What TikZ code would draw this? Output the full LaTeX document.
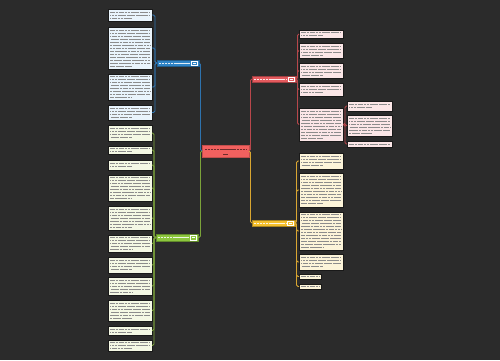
\documentclass[tikz,border=0pt]{standalone}
\begin{document}
\definecolor{bgc}{HTML}{2B2B2B}
\definecolor{bluen}{HTML}{2F84C6}
\definecolor{bluel}{HTML}{E9F4FC}
\definecolor{bluec}{HTML}{2E73AE}
\definecolor{greenn}{HTML}{8CC63E}
\definecolor{greenl}{HTML}{F4F8E4}
\definecolor{greenc}{HTML}{7BA33A}
\definecolor{redn}{HTML}{E45A5E}
\definecolor{redl}{HTML}{FBE6E7}
\definecolor{redc}{HTML}{B8474B}
\definecolor{centern}{HTML}{F2615F}
\definecolor{yellown}{HTML}{F5C02D}
\definecolor{yellowl}{HTML}{FCF4D9}
\definecolor{yellowc}{HTML}{D9A631}
\tikzset{
  leafn/.style={draw=black!90, line width=0.5pt, inner sep=0pt, outer sep=0pt, anchor=north west},
  brn/.style={line width=0.6pt, inner sep=0pt, outer sep=0pt, anchor=north west},
  txt/.style={line width=0.9pt, black!45, dash pattern=on 2.6pt off 0.4pt on 2.2pt off 0.6pt on 3pt off 0.4pt},
  conn/.style={line width=0.9pt, rounded corners=1.5pt},
}
\newcommand\lf[6]{%
  \node[leafn, fill=#6, minimum width={(#4-#2)*1pt}, minimum height={(#5-#3)*1pt}] (#1) at (#2,#3) {};
  \pgfmathtruncatemacro\nlines{max(1,floor((#5-#3-2)/3))}%
  \pgfmathsetmacro\ystart{#3+((#5-#3)-(\nlines-1)*3)/2}%
  \foreach \i in {1,...,\nlines}{%
    \pgfmathsetmacro\yy{\ystart+(\i-1)*3}%
    \pgfmathsetmacro\xe{ifthenelse(and(\i==\nlines,\nlines>1), #2+0.55*(#4-#2), #4-2)}%
    \pgfmathsetmacro\ph{mod(\i*3.7,9.6)}%
    \draw[txt, dash phase=\ph pt] (#2+2,\yy) -- (\xe,\yy);
  }%
}
\newcommand\brnode[7]{% name x1 y1 x2 y2 fill border
  \node[brn, fill=#6, draw=#7, minimum width={(#4-#2)*1pt}, minimum height={(#5-#3)*1pt}] (#1) at (#2,#3) {};
  \draw[line width=0.8pt, white!85!#6, dash pattern=on 2.4pt off 0.5pt] (#2+2,{(#3+#5)/2}) -- (#4-9,{(#3+#5)/2});
  \draw[line width=0.4pt, white] (#4-7.5,#3+1.2) rectangle (#4-2,#5-1.2);
  \draw[line width=0.6pt, white] (#4-6,{(#3+#5)/2}) -- (#4-3.5,{(#3+#5)/2});
}
\begin{tikzpicture}[x=1pt,y=-1pt]
\fill[bgc] (0,0) rectangle (500,360);
\useasboundingbox (0,0) rectangle (500,360);

% center
\node[brn, fill=centern, draw=centern!80!black, minimum width=47pt, minimum height=12pt] (c) at (202,145) {};
\draw[line width=0.8pt, centern!45!black, dash pattern=on 2.4pt off 0.5pt] (205,149.5) -- (246,149.5);
\draw[line width=0.8pt, centern!45!black] (223,154) -- (228,154);

% branch nodes
\brnode{bn}{157}{60}{199}{66}{bluen}{bluen!70!black}
\brnode{gn}{156}{234}{198}{241}{greenn}{greenn!70!black}
\brnode{rn}{252}{76}{296}{82}{redn}{redn!70!black}
\brnode{yn}{252}{220}{295}{226}{yellown}{yellown!70!black}

% blue leaves
\lf{b1}{108}{9}{152}{21}{bluel}
\lf{b2}{108}{27}{152}{69}{bluel}
\lf{b3}{108}{74}{152}{100}{bluel}
\lf{b4}{108}{105}{152}{120}{bluel}

% green leaves
\lf{g1}{108}{125}{152}{141}{greenl}
\lf{g2}{108}{146}{152}{154}{greenl}
\lf{g3}{108}{160}{152}{170}{greenl}
\lf{g4}{108}{175}{152}{201}{greenl}
\lf{g5}{108}{206}{152}{230}{greenl}
\lf{g6}{108}{235}{152}{252}{greenl}
\lf{g7}{108}{257}{152}{273}{greenl}
\lf{g8}{108}{277}{152}{295}{greenl}
\lf{g9}{108}{300}{152}{321}{greenl}
\lf{g10}{108}{326}{152}{335}{greenl}
\lf{g11}{108}{340}{152}{351}{greenl}

% red leaves
\lf{r1}{299}{30}{343}{38}{redl}
\lf{r2}{299}{43}{343}{58}{redl}
\lf{r3}{299}{63}{343}{78}{redl}
\lf{r4}{299}{83}{343}{96}{redl}
\lf{r5}{299}{108}{343}{141}{redl}
\lf{s1}{347}{101}{392}{111}{redl}
\lf{s2}{347}{115}{392}{136}{redl}
\lf{s3}{347}{141}{392}{147}{redl}

% yellow leaves
\lf{y1}{299}{153}{343}{169}{yellowl}
\lf{y2}{299}{173}{343}{207}{yellowl}
\lf{y3}{299}{212}{343}{250}{yellowl}
\lf{y4}{299}{254}{343}{270}{yellowl}
\lf{y5}{299}{274}{321}{279}{yellowl}
\lf{y6}{299}{284}{321}{289}{yellowl}

% connectors center -> branches
\draw[conn, bluec] (c.west) -- ++(-1.5,0) |- (bn.east);
\draw[conn, greenc] (c.west) -- ++(-1.5,0) |- (gn.east);
\draw[conn, redc] (c.east) -- ++(1.5,0) |- (rn.west);
\draw[conn, yellowc] (c.east) -- ++(1.5,0) |- (yn.west);

% branch -> leaves
\foreach \n in {b1,b2,b3,b4}{\draw[conn, bluec] (bn.west) -- ++(-2,0) |- (\n.east);}
\foreach \n in {g1,g2,g3,g4,g5,g6,g7,g8,g9,g10,g11}{\draw[conn, greenc] (gn.west) -- ++(-2,0) |- (\n.east);}
\foreach \n in {r1,r2,r3,r4,r5}{\draw[conn, redc] (rn.east) -- ++(1.5,0) |- (\n.west);}
\foreach \n in {s1,s2,s3}{\draw[conn, redc] (r5.east) -- ++(2,0) |- (\n.west);}
\foreach \n in {y1,y2,y3,y4,y5,y6}{\draw[conn, yellowc] (yn.east) -- ++(1.5,0) |- (\n.west);}
\end{tikzpicture}
\end{document}
